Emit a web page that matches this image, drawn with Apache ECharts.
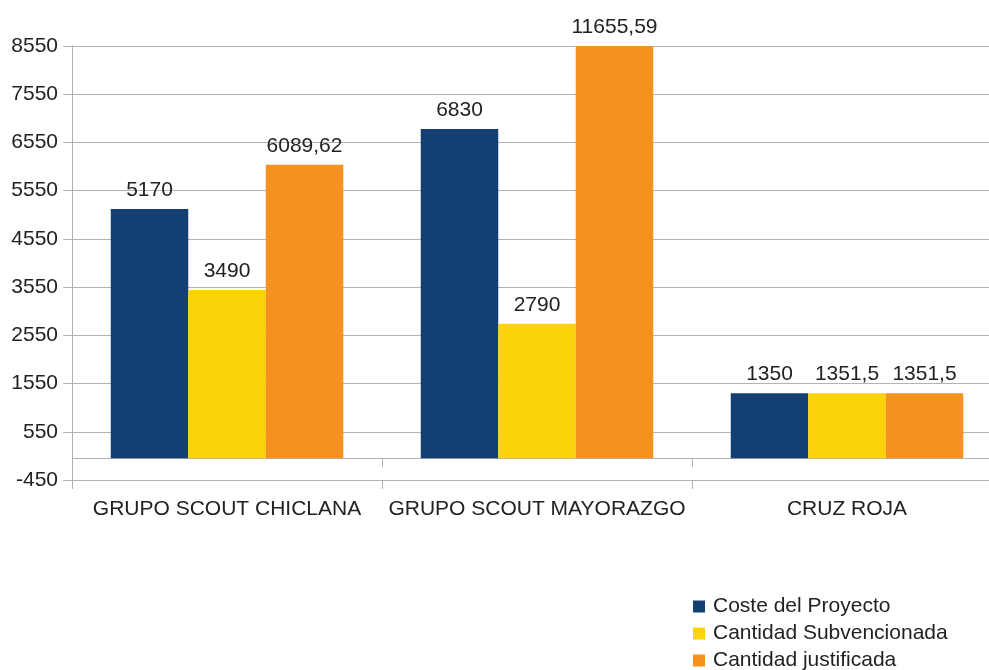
<!DOCTYPE html>
<html>
<head>
<meta charset="utf-8">
<script src="https://cdn.jsdelivr.net/npm/echarts@6/dist/echarts.min.js"></script>
<style>
  html, body { margin: 0; padding: 0; background: #fff; overflow: hidden; width: 989px; height: 670px; }
  #chart { width: 1002px; height: 700px; }
</style>
</head>
<body>
<div id="chart"></div>
<script>
const categories = ['GRUPO SCOUT CHICLANA', 'GRUPO SCOUT MAYORAZGO', 'CRUZ ROJA']
const seriesNames = ['Coste del Proyecto', 'Cantidad Subvencionada', 'Cantidad justificada']
const coste = [5170, 6830, 1350]
const subvencionada = [3490, 2790, 1351.5]
const justificada = [6089.62, 11655.59, 1351.5]
const colors = ['#133f73', '#fcd20a', '#f5911f']

const axisGray = '#b3b3b3'
const textColor = '#222'
const font = 'Liberation Sans, Arial, sans-serif'

// the plot runs past the right edge of the picture, so the chart is a bit bigger than the window
const chart = echarts.init(document.getElementById('chart'))

function barSeries(name, data, color) {
  return {
    name: name,
    type: 'bar',
    xAxisIndex: 0,
    data: data,
    barGap: '0%',
    barCategoryGap: '25%',
    itemStyle: {color: color},
    label: {
      show: true,
      position: 'top',
      distance: 8,
      color: textColor,
      fontSize: 21,
      fontFamily: font,
      formatter: p => String(p.value).replace('.', ',')
    }
  }
}

chart.setOption({
  animation: false,
  color: colors,
  grid: {left: 72, right: 0, top: 46, bottom: 220, containLabel: false},
  legend: {
    orient: 'vertical',
    left: 693,
    top: 596,
    padding: 0,
    itemWidth: 12,
    itemHeight: 12,
    itemGap: 6,
    icon: 'rect',
    textStyle: {color: textColor, fontSize: 21, fontFamily: font, padding: [0, 0, 0, 3]},
    data: seriesNames
  },
  xAxis: [
    {
      type: 'category',
      data: categories,
      position: 'bottom',
      axisLine: {onZero: true, lineStyle: {color: axisGray}},
      axisTick: {show: true, length: 9, lineStyle: {color: axisGray}},
      axisLabel: {show: false},
      splitLine: {show: false}
    },
    {
      type: 'category',
      data: categories,
      position: 'bottom',
      axisLine: {onZero: false, lineStyle: {color: axisGray}},
      axisTick: {show: true, length: 9, lineStyle: {color: axisGray}},
      axisLabel: {margin: 19, color: textColor, fontSize: 21, fontFamily: font, interval: 0},
      splitLine: {show: false}
    }
  ],
  yAxis: {
    type: 'value',
    min: -450,
    max: 8550,
    interval: 1000,
    axisLine: {show: true, lineStyle: {color: axisGray}},
    axisTick: {show: true, length: 9, lineStyle: {color: axisGray}},
    axisLabel: {margin: 14, color: textColor, fontSize: 21, fontFamily: font, formatter: v => String(v)},
    splitLine: {lineStyle: {color: axisGray}}
  },
  series: [
    barSeries(seriesNames[0], coste, colors[0]),
    barSeries(seriesNames[1], subvencionada, colors[1]),
    barSeries(seriesNames[2], justificada, colors[2])
  ]
})
</script>
</body>
</html>
